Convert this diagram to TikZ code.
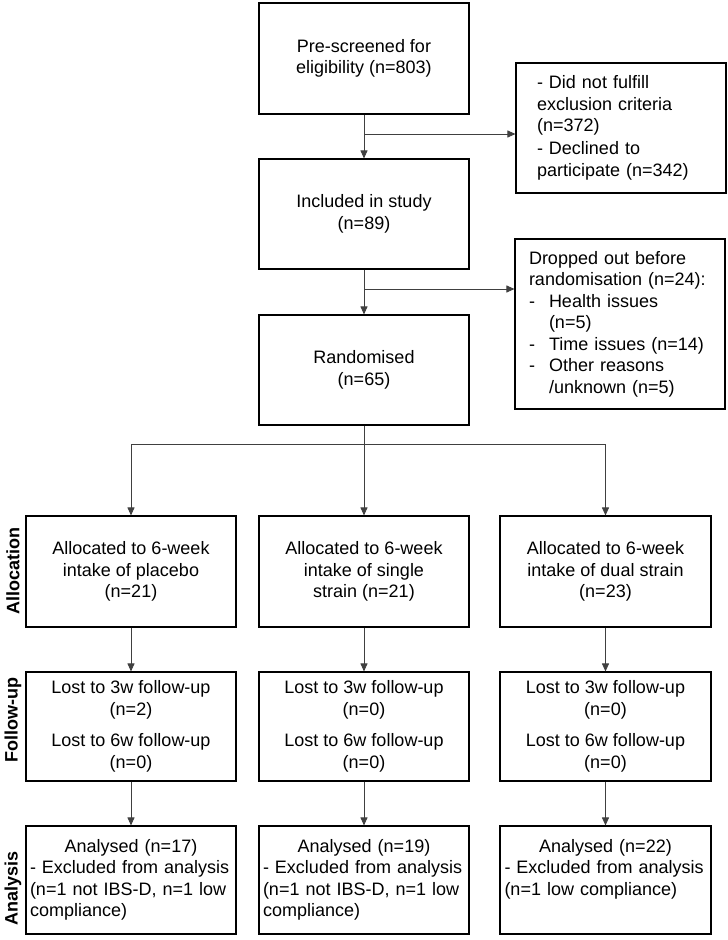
\documentclass[tikz,border=0pt]{standalone}
\usepackage{fontspec}
\setmainfont{Liberation Sans}
\usetikzlibrary{arrows.meta}

\tikzset{
  stagebox/.style={draw, line width=1.1pt, minimum width=210pt, minimum height=110pt, inner sep=4pt, align=center},
  listbox/.style={stagebox, align=left},
  link/.style={line width=0.9pt, draw=black!75},
  phase/.style={font=\fontsize{18}{21}\selectfont\bfseries, rotate=90},
  >={Triangle[length=8pt,width=7pt]}
}
\newcommand{\dropitem}[1]{\makebox[20pt][l]{-}#1}

\begin{document}
\begin{tikzpicture}[x=1pt, y=-1pt, font=\fontsize{18}{21.5}\selectfont]
        \useasboundingbox (0, 0) rectangle (728, 940);

        \draw (364, 58.5) node[stagebox, minimum height=111pt] (screen) {Pre-screened for\\eligibility (n=803)};
        \draw (621, 128) node[listbox, text width=168pt, minimum height=130pt] (excl) {- Did not fulfill\\exclusion criteria\\(n=372)\\[1.5pt]- Declined to\\participate (n=342)};
        \draw (364, 214) node[stagebox] (incl) {Included in study\\(n=89)};
        \draw (620, 324) node[listbox, text width=182pt, minimum height=170pt] (drop) {Dropped out before\\randomisation (n=24):\\\dropitem{Health issues}\\\hspace*{20pt}(n=5)\\\dropitem{Time issues (n=14)}\\\dropitem{Other reasons}\\\hspace*{20pt}/unknown (n=5)};
        \draw (364, 370) node[stagebox] (rand) {Randomised\\(n=65)};

        \draw (131, 571.5) node[stagebox, minimum height=111pt] (alloc1) {Allocated to 6-week\\intake of placebo\\(n=21)};
        \draw (364, 571.5) node[stagebox, minimum height=111pt] (alloc2) {Allocated to 6-week\\intake of single\\strain (n=21)};
        \draw (605.5, 571.5) node[stagebox, minimum height=111pt, minimum width=211pt] (alloc3) {Allocated to 6-week\\intake of dual strain\\(n=23)};

        \draw (131, 726.5) node[stagebox, minimum height=109pt] (follow1) {Lost to 3w follow-up\\(n=2)\\[10pt]Lost to 6w follow-up\\(n=0)};
        \draw (364, 726.5) node[stagebox, minimum height=109pt] (follow2) {Lost to 3w follow-up\\(n=0)\\[10pt]Lost to 6w follow-up\\(n=0)};
        \draw (605.5, 726.5) node[stagebox, minimum height=109pt, minimum width=211pt] (follow3) {Lost to 3w follow-up\\(n=0)\\[10pt]Lost to 6w follow-up\\(n=0)};

        \draw (131, 880) node[listbox, text width=202pt, minimum height=108pt] (anal1) {\makebox[202pt]{Analysed (n=17)}\\- Excluded from analysis\\(n=1 not IBS-D, n=1 low\\compliance)};
        \draw (364, 880) node[listbox, text width=202pt, minimum height=108pt] (anal2) {\makebox[202pt]{Analysed (n=19)}\\- Excluded from analysis\\(n=1 not IBS-D, n=1 low\\compliance)};
        \draw (605.5, 880) node[listbox, text width=202pt, minimum height=108pt, minimum width=211pt] (anal3) {\makebox[202pt]{Analysed (n=22)}\\- Excluded from analysis\\(n=1 low compliance)\\\vphantom{(}};

        \draw (13, 571) node[phase] (phalloc) {Allocation};
        \draw (13, 720) node[phase] (phfollow) {Follow-up};
        \draw (13, 888) node[phase] (phanal) {Analysis};

        % exclusions branch off the main line
        \coordinate (fork1) at (364, 134);
        \coordinate (fork2) at (364, 289);
        \coordinate (split) at (364, 444);

        \draw[link, ->] (screen) -- (incl);
        \draw[link, ->] (fork1) -- (fork1 -| excl.west);
        \draw[link, ->] (incl) -- (rand);
        \draw[link, ->] (fork2) -- (fork2 -| drop.west);

        \draw[link, ->] (rand) -- (alloc2);
        \draw[link] (split -| alloc1) -- (split -| alloc3);
        \draw[link, ->] (split -| alloc1) -- (alloc1);
        \draw[link, ->] (split -| alloc3) -- (alloc3);

        \draw[link, ->] (alloc1) -- (follow1);
        \draw[link, ->] (alloc2) -- (follow2);
        \draw[link, ->] (alloc3) -- (follow3);
        \draw[link, ->] (follow1) -- (anal1);
        \draw[link, ->] (follow2) -- (anal2);
        \draw[link, ->] (follow3) -- (anal3);
    \end{tikzpicture}
\end{document}
